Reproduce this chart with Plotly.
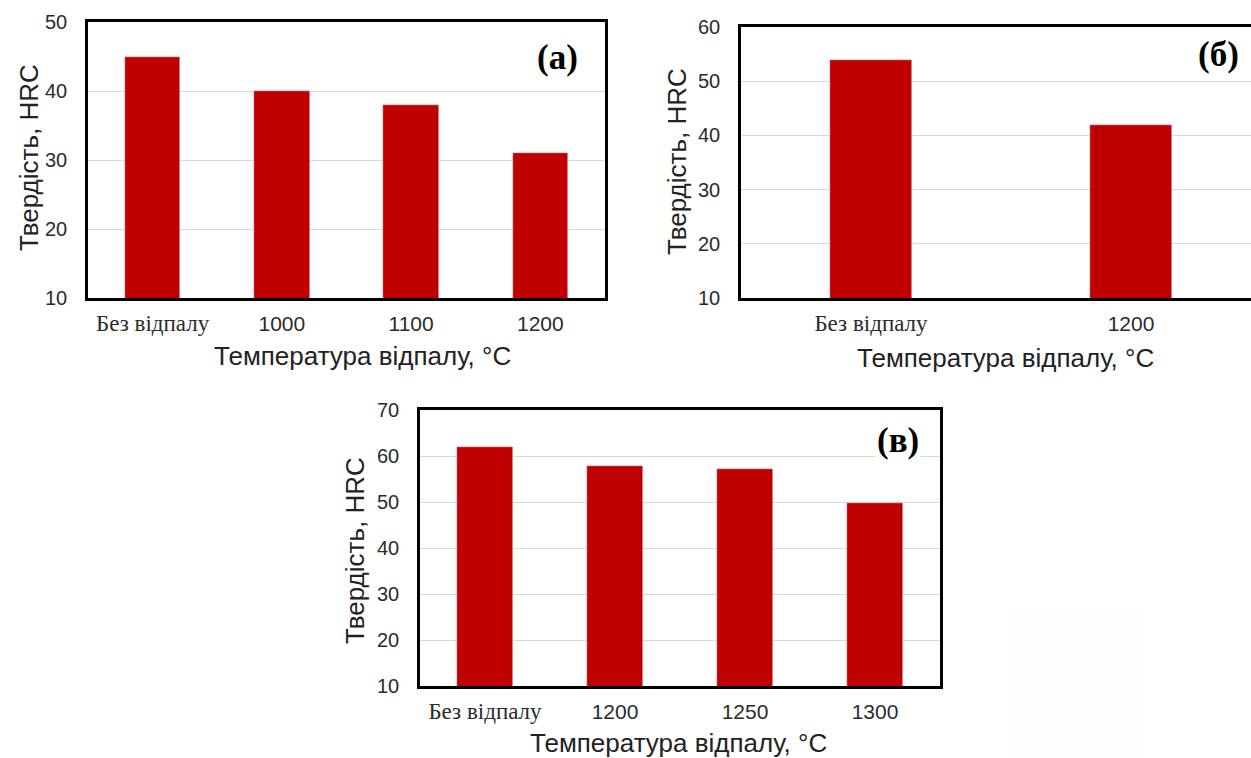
import plotly.graph_objects as go

W, H = 1251, 758

# ---- data ----
cats_a = ["Без відпалу", "1000", "1100", "1200"]
vals_a = [45, 40, 38, 31]

cats_b = ["Без відпалу", "1200"]
vals_b = [54, 42]

cats_c = ["Без відпалу", "1200", "1250", "1300"]
vals_c = [62, 57.8, 57.1, 49.8]

yticks_a = [10, 20, 30, 40, 50]
yticks_b = [10, 20, 30, 40, 50, 60]
yticks_c = [10, 20, 30, 40, 50, 60, 70]

panel_labels = ["(a)", "(б)", "(в)"]
y_title = "Твердість, HRC"
x_title = "Температура відпалу, °C"

BAR = "#C00000"
SANS = "Liberation Sans, Arial"
SERIF = "Liberation Serif"
XTICK_FONT = dict(family=SANS, size=21, color="#2b2b2b")
YTICK_FONT = dict(family=SANS, size=20, color="#2b2b2b")
TITLE_FONT = dict(family=SANS, size=26, color="#222222")


def fx(p):
    return p / W


def fy(p):
    return 1 - p / H


def ticktext(cats):
    out = []
    for c in cats:
        if c.isdigit():
            out.append(c)
        else:
            out.append(f"<span style='font-family:{SERIF};font-size:23px'>{c}</span>")
    return out


fig = go.Figure()

fig.add_trace(go.Bar(x=cats_a, y=vals_a, marker_color=BAR, width=0.43,
                     xaxis="x", yaxis="y", showlegend=False))
fig.add_trace(go.Bar(x=cats_b, y=vals_b, marker_color=BAR, width=0.315,
                     xaxis="x2", yaxis="y2", showlegend=False))
fig.add_trace(go.Bar(x=cats_c, y=vals_c, marker_color=BAR, width=0.43,
                     xaxis="x3", yaxis="y3", showlegend=False))

common_x = dict(type="category", showline=True, linecolor="black", linewidth=2.5,
                showgrid=False, ticks="", tickfont=XTICK_FONT, ticklabelstandoff=5,
                zeroline=False, automargin=False)
common_y = dict(showline=True, linecolor="black", linewidth=2.5,
                showgrid=True, gridcolor="#d9d9d9", gridwidth=1, ticks="",
                tickfont=YTICK_FONT, ticklabelstandoff=14, zeroline=False,
                automargin=False)

fig.update_layout(
    width=W, height=H,
    margin=dict(l=0, r=0, t=0, b=0),
    paper_bgcolor="white", plot_bgcolor="white",
    bargap=0,
    xaxis=dict(common_x, domain=[fx(88), fx(605)], anchor="y", mirror=True,
               range=[-0.5, 3.5], tickvals=cats_a, ticktext=ticktext(cats_a)),
    yaxis=dict(common_y, domain=[fy(298), fy(22)], anchor="x", mirror=True,
               range=[10, 50], tickvals=yticks_a),
    xaxis2=dict(common_x, domain=[fx(741), 1.0], anchor="y2", mirror=True,
                range=[-0.5, -0.5 + 510 / 260], tickvals=cats_b, ticktext=ticktext(cats_b)),
    yaxis2=dict(common_y, domain=[fy(298), fy(27)], anchor="x2", mirror=False,
                range=[10, 60], tickvals=yticks_b),
    xaxis3=dict(common_x, domain=[fx(420), fx(940)], anchor="y3", mirror=True,
                range=[-0.5, 3.5], tickvals=cats_c, ticktext=ticktext(cats_c)),
    yaxis3=dict(common_y, domain=[fy(686), fy(410)], anchor="x3", mirror=True,
                range=[10, 70], tickvals=yticks_c),
)

annots = []
# axis titles
for (yx, yy), (xx, xy) in [((29, 158), (363, 356)),
                           ((677, 162), (1005, 358)),
                           ((355, 550), (678, 743))]:
    annots.append(dict(text=y_title, x=fx(yx), y=fy(yy), xref="paper", yref="paper",
                       textangle=-90, showarrow=False, font=TITLE_FONT,
                       xanchor="center", yanchor="middle"))
    annots.append(dict(text=x_title, x=fx(xx), y=fy(xy), xref="paper", yref="paper",
                       showarrow=False, font=TITLE_FONT,
                       xanchor="center", yanchor="middle"))

# panel labels
for lab, (lx, ly), bg in zip(panel_labels, [(557, 57), (1218, 55), (898, 440)],
                             [None, None, "white"]):
    a = dict(text=f"<b>{lab}</b>", x=fx(lx), y=fy(ly), xref="paper", yref="paper",
             showarrow=False, font=dict(family=SERIF, size=35, color="black"),
             xanchor="center", yanchor="middle")
    if bg:
        a["bgcolor"] = bg
    annots.append(a)

fig.update_layout(annotations=annots)

# faint artifact patch in the lower right
fig.add_shape(type="rect", xref="paper", yref="paper",
              x0=fx(1010), x1=fx(1142), y0=fy(755), y1=fy(609),
              fillcolor="#fdfdfd", line_width=0, layer="below")

fig.write_html("out.html")
